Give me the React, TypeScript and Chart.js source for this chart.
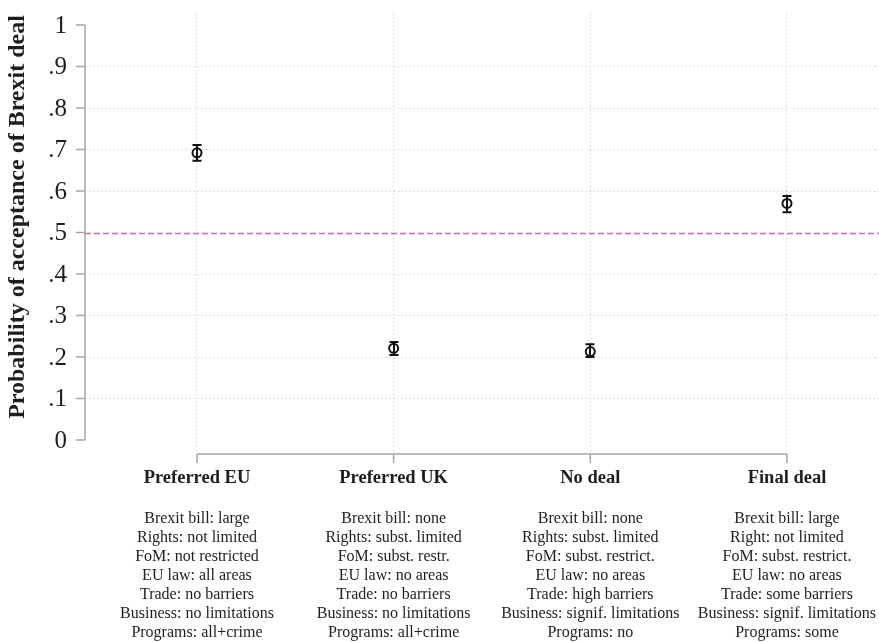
import { useEffect, useRef } from "react";
import { Chart, registerables } from "chart.js";

Chart.register(...registerables);

// Scenarios and their estimated acceptance probabilities with 95% intervals
const categories = ["Preferred EU", "Preferred UK", "No deal", "Final deal"];
const estimates = [0.692, 0.221, 0.213, 0.57];
const ciLower = [0.673, 0.205, 0.2, 0.549];
const ciUpper = [0.711, 0.236, 0.231, 0.588];

const attributes = [
  ["Brexit bill: large", "Rights: not limited", "FoM: not restricted", "EU law: all areas", "Trade: no barriers", "Business: no limitations", "Programs: all+crime"],
  ["Brexit bill: none", "Rights: subst. limited", "FoM: subst. restr.", "EU law: no areas", "Trade: no barriers", "Business: no limitations", "Programs: all+crime"],
  ["Brexit bill: none", "Rights: subst. limited", "FoM: subst. restrict.", "EU law: no areas", "Trade: high barriers", "Business: signif. limitations", "Programs: no"],
  ["Brexit bill: large", "Right: not limited", "FoM: subst. restrict.", "EU law: no areas", "Trade: some barriers", "Business: signif. limitations", "Programs: some"],
];

const yTicks = [0, 0.1, 0.2, 0.3, 0.4, 0.5, 0.6, 0.7, 0.8, 0.9, 1];
const yTickLabels = ["0", ".1", ".2", ".3", ".4", ".5", ".6", ".7", ".8", ".9", "1"];
const referenceLevel = 0.5;
const yTitle = "Probability of acceptance of Brexit deal";

const SERIF = "'Liberation Serif', 'Times New Roman', serif";
const TEXT = "#1e1e1e";
const AXIS = "#a6a6a6";
const GRID = "#c4c4c4";

const decorations = {
  id: "decorations",
  beforeDatasetsDraw(chart: any) {
    const { ctx, chartArea } = chart;
    const y = chart.scales.y;
    const axisX = chartArea.left - 5;
    const yr = Math.round(y.getPixelForValue(referenceLevel)) + 0.5;
    ctx.save();
    ctx.strokeStyle = "#cf6aa4";
    ctx.lineWidth = 1.3;
    ctx.setLineDash([6, 3]);
    ctx.beginPath();
    ctx.moveTo(axisX, yr);
    ctx.lineTo(chartArea.right, yr);
    ctx.stroke();
    ctx.restore();
  },
  afterDatasetsDraw(chart: any) {
    const { ctx } = chart;
    const x = chart.scales.x;
    const y = chart.scales.y;
    ctx.save();
    ctx.strokeStyle = "#111";
    ctx.lineWidth = 2;
    categories.forEach((_, i) => {
      const px = Math.round(x.getPixelForValue(i + 1));
      const lo = y.getPixelForValue(ciLower[i]);
      const hi = y.getPixelForValue(ciUpper[i]);
      ctx.beginPath();
      ctx.moveTo(px, lo);
      ctx.lineTo(px, hi);
      ctx.moveTo(px - 4.5, lo);
      ctx.lineTo(px + 4.5, lo);
      ctx.moveTo(px - 4.5, hi);
      ctx.lineTo(px + 4.5, hi);
      ctx.stroke();
    });
    ctx.restore();
  },
  afterDraw(chart: any) {
    const { ctx, chartArea } = chart;
    const x = chart.scales.x;
    const y = chart.scales.y;
    const axisX = chartArea.left - 5;
    ctx.save();
    // y axis line and ticks
    ctx.strokeStyle = AXIS;
    ctx.lineWidth = 1.5;
    ctx.beginPath();
    ctx.moveTo(axisX, y.getPixelForValue(1));
    ctx.lineTo(axisX, y.getPixelForValue(0));
    yTicks.forEach((v) => {
      const py = y.getPixelForValue(v);
      ctx.moveTo(axisX, py);
      ctx.lineTo(axisX - 9, py);
    });
    ctx.stroke();

    // x axis line and ticks
    const axisY = chartArea.bottom + 1;
    ctx.beginPath();
    ctx.moveTo(x.getPixelForValue(1), axisY);
    ctx.lineTo(x.getPixelForValue(categories.length), axisY);
    categories.forEach((_, i) => {
      const px = x.getPixelForValue(i + 1);
      ctx.moveTo(px, axisY);
      ctx.lineTo(px, axisY + 9);
    });
    ctx.stroke();

    // y tick labels
    ctx.fillStyle = TEXT;
    ctx.textAlign = "right";
    ctx.textBaseline = "middle";
    ctx.font = `25px ${SERIF}`;
    yTicks.forEach((v, i) => {
      ctx.fillText(yTickLabels[i], axisX - 18, y.getPixelForValue(v) + 1);
    });

    // category labels with attribute descriptions
    ctx.textAlign = "center";
    categories.forEach((name, i) => {
      const px = x.getPixelForValue(i + 1);
      ctx.font = `bold 18.5px ${SERIF}`;
      ctx.fillText(name, px, 478);
      ctx.font = `16px ${SERIF}`;
      attributes[i].forEach((line, j) => {
        ctx.fillText(line, px, 519 + j * 19);
      });
    });

    // y axis title
    ctx.translate(18, 217);
    ctx.rotate(-Math.PI / 2);
    ctx.font = `bold 24px ${SERIF}`;
    ctx.fillText(yTitle, 0, 0);
    ctx.restore();
  },
};

export default function App() {
  const canvasRef = useRef<HTMLCanvasElement | null>(null);

  useEffect(() => {
    const canvas = canvasRef.current;
    if (!canvas) return;
    const chart = new Chart(canvas, {
      type: "scatter",
      data: {
        datasets: [
          {
            data: estimates.map((v, i) => ({ x: i + 1, y: v })),
            pointStyle: "circle",
            pointRadius: 4.5,
            pointBorderWidth: 2,
            pointBorderColor: "#111",
            pointBackgroundColor: "rgba(0,0,0,0)",
            showLine: false,
          },
        ],
      },
      options: {
        animation: false,
        responsive: false,
        devicePixelRatio: 1,
        layout: { autoPadding: false, padding: { top: 14, left: 0, right: 0, bottom: 0 } },
        plugins: {
          legend: { display: false },
          tooltip: { enabled: false },
        },
        scales: {
          x: {
            type: "linear",
            min: 0.456,
            max: 4.468,
            afterBuildTicks: (scale: any) => {
              scale.ticks = categories.map((_, i) => ({ value: i + 1 }));
            },
            afterFit: (scale: any) => {
              scale.height = 189;
              scale.paddingLeft = 0;
              scale.paddingRight = 0;
            },
            ticks: { display: false },
            grid: { color: GRID, lineWidth: 1, drawTicks: false },
            border: { display: false, dash: [1, 3] },
          },
          y: {
            type: "linear",
            min: -0.0313,
            max: 1.0265,
            afterBuildTicks: (scale: any) => {
              scale.ticks = yTicks.map((v) => ({ value: v }));
            },
            afterFit: (scale: any) => {
              scale.width = 90;
              scale.paddingTop = 0;
              scale.paddingBottom = 0;
            },
            ticks: { display: false },
            grid: {
              color: (c: any) => {
                const v = c.tick ? c.tick.value : 0;
                return v < 0.05 || v > 0.95 || Math.abs(v - referenceLevel) < 0.01 ? "rgba(0,0,0,0)" : GRID;
              },
              lineWidth: 1,
              drawTicks: false,
            },
            border: { display: false, dash: [1, 3] },
          },
        },
      },
      plugins: [decorations],
    });
    return () => chart.destroy();
  }, []);

  return (
    <div style={{ position: "absolute", left: 0, top: 0, width: 879, height: 642, background: "#fff" }}>
      <canvas ref={canvasRef} width={879} height={642} style={{ display: "block" }} />
    </div>
  );
}
